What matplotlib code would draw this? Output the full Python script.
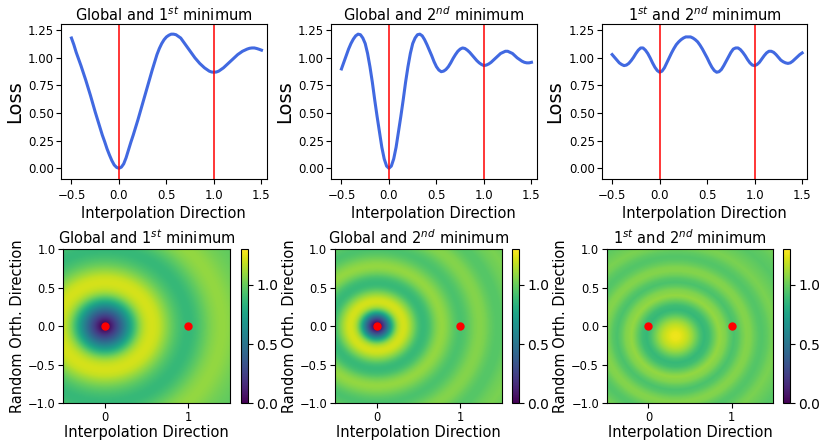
# Loss along the interpolation direction + 2D loss landscape around the minima

import numpy as np
import matplotlib.pyplot as plt

# x positions of the 1D cuts (step 0.025)
x_line = [round(-0.5 + 0.025 * k, 3) for k in range(81)]

loss_g1 = [1.18, 1.12, 1.05, 0.99, 0.93, 0.865, 0.80, 0.73, 0.66, 0.585,
           0.51, 0.44, 0.37, 0.30, 0.24, 0.175, 0.12, 0.07, 0.03, 0.008,
           0.0, 0.01, 0.04, 0.095, 0.165, 0.235, 0.30, 0.37, 0.44, 0.515,
           0.59, 0.665, 0.74, 0.815, 0.89, 0.96, 1.03, 1.085, 1.13, 1.165,
           1.19, 1.205, 1.215, 1.215, 1.21, 1.195, 1.18, 1.15, 1.12, 1.09,
           1.06, 1.03, 1.0, 0.975, 0.95, 0.93, 0.91, 0.895, 0.88, 0.872,
           0.87, 0.872, 0.88, 0.895, 0.91, 0.93, 0.95, 0.97, 0.99, 1.01,
           1.03, 1.045, 1.06, 1.07, 1.08, 1.087, 1.09, 1.09, 1.085, 1.078,
           1.07]

loss_g2 = [0.90, 0.96, 1.02, 1.08, 1.13, 1.17, 1.20, 1.215, 1.21, 1.18,
           1.13, 1.04, 0.92, 0.78, 0.62, 0.47, 0.33, 0.19, 0.085, 0.02,
           0.0, 0.02, 0.085, 0.19, 0.33, 0.47, 0.62, 0.78, 0.92, 1.04,
           1.13, 1.18, 1.21, 1.215, 1.20, 1.165, 1.12, 1.07, 1.02, 0.965,
           0.92, 0.89, 0.875, 0.88, 0.895, 0.92, 0.955, 0.995, 1.03, 1.06,
           1.08, 1.09, 1.085, 1.07, 1.05, 1.025, 1.0, 0.975, 0.955, 0.94,
           0.93, 0.935, 0.945, 0.96, 0.98, 1.0, 1.02, 1.04, 1.05, 1.06,
           1.06, 1.05, 1.04, 1.02, 1.0, 0.985, 0.97, 0.96, 0.955, 0.955,
           0.96]

loss_12 = [1.03, 1.005, 0.98, 0.955, 0.94, 0.93, 0.935, 0.95, 0.975, 1.005,
           1.04, 1.07, 1.09, 1.09, 1.07, 1.04, 1.0, 0.955, 0.915, 0.885,
           0.87, 0.88, 0.91, 0.955, 1.0, 1.045, 1.085, 1.12, 1.145, 1.165,
           1.18, 1.19, 1.19, 1.19, 1.18, 1.165, 1.145, 1.115, 1.08, 1.04,
           1.0, 0.955, 0.915, 0.885, 0.87, 0.875, 0.895, 0.93, 0.97, 1.01,
           1.05, 1.08, 1.09, 1.09, 1.075, 1.05, 1.02, 0.985, 0.955, 0.935,
           0.93, 0.94, 0.96, 0.99, 1.02, 1.045, 1.06, 1.06, 1.05, 1.03,
           1.005, 0.98, 0.965, 0.955, 0.95, 0.955, 0.97, 0.99, 1.01, 1.03,
           1.045]

# radial loss profiles for the 2D maps (distance from ring centre)
# panels 1 and 2: the x >= 0 half of the cut, continued further out
ext_r = [1.6, 1.7, 1.8, 1.9]
ext_g1 = [1.03, 1.0, 0.98, 0.97]
ext_g2 = [1.01, 1.04, 1.01, 0.98]

# panel 3: rings centred between the two minima, slightly below the cut
r_12 = [0.0, 0.05, 0.1, 0.13, 0.15, 0.2, 0.25, 0.3, 0.345, 0.4, 0.45, 0.5,
        0.53, 0.6, 0.65, 0.7, 0.75, 0.8, 0.85, 0.9, 0.95, 1.0, 1.04, 1.1,
        1.15, 1.2, 1.3, 1.4, 1.5, 1.6, 1.7]
prof_12 = [1.27, 1.26, 1.22, 1.19, 1.17, 1.10, 1.01, 0.92, 0.87, 0.90, 0.98,
           1.06, 1.09, 1.05, 0.98, 0.93, 0.96, 1.02, 1.06, 1.05, 1.0, 0.96,
           0.95, 0.98, 1.02, 1.04, 1.0, 0.96, 0.98, 1.02, 1.0]

centres = [(0.0, 0.0), (0.0, 0.0), (0.32, -0.13)]
minima_x = [0, 1]
titles = ['Global and 1$^{st}$ minimum', 'Global and 2$^{nd}$ minimum',
          '1$^{st}$ and 2$^{nd}$ minimum']

half = x_line.index(0.0)
radii = [x_line[half:] + ext_r, x_line[half:] + ext_r, r_12]
profs = [loss_g1[half:] + ext_g1, loss_g2[half:] + ext_g2, prof_12]
lines = [loss_g1, loss_g2, loss_12]

W, H = 820, 441
fig = plt.figure(figsize=(W / 100, H / 100), dpi=100)

top_left = [61, 331, 601.7]
bot_left = [63.3, 335, 606.7]
cb_left = [240.7, 511.7, 782.7]

# grid for the maps
gx = np.linspace(-0.5, 1.5, 300)
gy = np.linspace(-1.0, 1.0, 300)
GX, GY = np.meshgrid(gx, gy)

for i in range(3):
    # --- line plots
    ax = fig.add_axes([top_left[i] / W, 1 - 179.3 / H, 205.7 / W, 155.3 / H])
    ax.plot(x_line, lines[i], color='royalblue', lw=2.2)
    for m in minima_x:
        ax.axvline(m, color='red', lw=1.1)
    ax.set_xlim(-0.61, 1.555)
    ax.set_ylim(-0.1, 1.307)
    ax.set_yticks([0, 0.25, 0.5, 0.75, 1.0, 1.25])
    ax.set_xticks([-0.5, 0, 0.5, 1.0, 1.5])
    ax.tick_params(labelsize=8.5)
    ax.tick_params(axis='y', pad=1.5)
    ax.set_title(titles[i], fontsize=10.5, pad=2.5)
    ax.set_xlabel('Interpolation Direction', fontsize=10.5, labelpad=3)
    ax.set_ylabel('Loss', fontsize=14, labelpad=3)

    # --- 2D maps
    cx, cy = centres[i]
    dist = np.sqrt((GX - cx) ** 2 + (GY - cy) ** 2)
    Z = np.interp(dist, radii[i], profs[i])

    hm = fig.add_axes([bot_left[i] / W, 1 - 403.3 / H, 166.7 / W, 154 / H])
    im = hm.imshow(Z, extent=[-0.5, 1.5, -1, 1], origin='lower', aspect='auto',
                   cmap='viridis', vmin=0, vmax=1.3)
    hm.plot(minima_x, [0, 0], 'o', color='red', ms=5)
    hm.set_xticks([0, 1])
    hm.set_yticks([-1.0, -0.5, 0.0, 0.5, 1.0])
    hm.tick_params(labelsize=8.3, pad=2)
    hm.set_title(titles[i], fontsize=10.5, pad=3.5)
    hm.set_xlabel('Interpolation Direction', fontsize=10.5, labelpad=0.5)
    hm.set_ylabel('Random Orth. Direction', fontsize=10.5, labelpad=2)

    cax = fig.add_axes([cb_left[i] / W, 1 - 403.3 / H, 7.6 / W, 154 / H])
    cb = fig.colorbar(im, cax=cax, ticks=[0.0, 0.5, 1.0])
    cb.ax.tick_params(labelsize=10, pad=2)

fig.savefig('out.png', dpi=100)
